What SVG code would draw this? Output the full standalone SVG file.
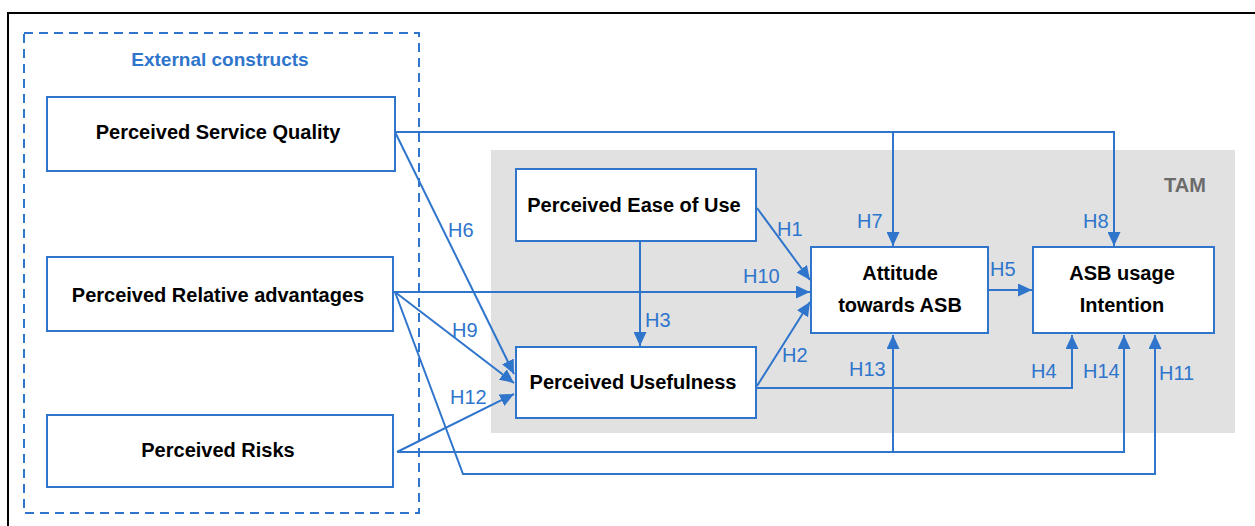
<svg xmlns="http://www.w3.org/2000/svg" width="1255" height="526" viewBox="0 0 1255 526">
<style>
.node{fill:#fff;stroke:#2F75CC;stroke-width:2}
.t{font-family:"Liberation Sans",Arial,sans-serif;font-weight:bold;font-size:20px;fill:#000;text-anchor:middle}
.lbl{font-family:"Liberation Sans",Arial,sans-serif;font-size:20px;fill:#2F75CC}
.c{fill:none;stroke:#2F75CC;stroke-width:2}
</style>
<defs>
<marker id="arr" markerUnits="userSpaceOnUse" markerWidth="14" markerHeight="13" refX="14" refY="6.5" orient="auto">
<path d="M0,0 L14,6.5 L0,13 z" fill="#2F75CC"/>
</marker>
</defs>
<rect x="0" y="0" width="1255" height="526" fill="#fff"/>
<rect x="8" y="13" width="1260" height="530" fill="none" stroke="#000" stroke-width="2"/>
<g id="tam-area">
<rect x="491" y="150" width="744" height="283" fill="#e1e1e1"/>
<text x="1185" y="192" font-family="Liberation Sans,Arial,sans-serif" font-weight="bold" font-size="20" fill="#6b6b6b" text-anchor="middle">TAM</text>
</g>
<g id="external">
<rect x="24" y="33" width="395" height="480" fill="none" stroke="#2F75CC" stroke-width="2" stroke-dasharray="9,6"/>
<text x="220" y="66" font-family="Liberation Sans,Arial,sans-serif" font-weight="bold" font-size="19" fill="#2F75CC" text-anchor="middle">External constructs</text>
</g>
<g id="connectors">
<path class="c" d="M395,132 H1114 V246" marker-end="url(#arr)"/>
<path class="c" d="M893,132 V246" marker-end="url(#arr)"/>
<path class="c" d="M395,132 L514,374" marker-end="url(#arr)"/>
<path class="c" d="M393,292 H810" marker-end="url(#arr)"/>
<path class="c" d="M395,292 L514,383" marker-end="url(#arr)"/>
<path class="c" d="M395,292 L463,474 H1155 V335" marker-end="url(#arr)"/>
<path class="c" d="M397,452 L514,394" marker-end="url(#arr)"/>
<path class="c" d="M397,452 H1124 V335" marker-end="url(#arr)"/>
<path class="c" d="M893,452 V335" marker-end="url(#arr)"/>
<path class="c" d="M756,388 H1072 V335" marker-end="url(#arr)"/>
<path class="c" d="M757,386 L810,302" marker-end="url(#arr)"/>
<path class="c" d="M757,208 L810,280" marker-end="url(#arr)"/>
<path class="c" d="M640,241 V346" marker-end="url(#arr)"/>
<path class="c" d="M988,290 H1032" marker-end="url(#arr)"/>
</g>
<g id="labels">
<text class="lbl" x="448" y="237">H6</text>
<text class="lbl" x="777" y="236">H1</text>
<text class="lbl" x="743" y="283">H10</text>
<text class="lbl" x="857" y="228">H7</text>
<text class="lbl" x="1083" y="228">H8</text>
<text class="lbl" x="990" y="276">H5</text>
<text class="lbl" x="645" y="327">H3</text>
<text class="lbl" x="452" y="337">H9</text>
<text class="lbl" x="450" y="404">H12</text>
<text class="lbl" x="782" y="362">H2</text>
<text class="lbl" x="849" y="376">H13</text>
<text class="lbl" x="1031" y="378">H4</text>
<text class="lbl" x="1083" y="378">H14</text>
<text class="lbl" x="1159" y="380">H11</text>
</g>
<g id="psq">
<rect class="node" x="47" y="97" width="348" height="74"/>
<text class="t" x="218" y="139">Perceived Service Quality</text>
</g>
<g id="pra">
<rect class="node" x="47" y="257" width="346" height="74"/>
<text class="t" x="218" y="302">Perceived Relative advantages</text>
</g>
<g id="pr">
<rect class="node" x="47" y="415" width="346" height="72"/>
<text class="t" x="218" y="457">Perceived Risks</text>
</g>
<g id="peou">
<rect class="node" x="516" y="169" width="240" height="72"/>
<text class="t" x="634" y="212">Perceived Ease of Use</text>
</g>
<g id="pu">
<rect class="node" x="516" y="347" width="240" height="71"/>
<text class="t" x="633" y="389">Perceived Usefulness</text>
</g>
<g id="att">
<rect class="node" x="811" y="247" width="177" height="86"/>
<text class="t" x="900" y="280">Attitude</text>
<text class="t" x="900" y="312">towards  ASB</text>
</g>
<g id="asb">
<rect class="node" x="1033" y="247" width="181" height="86"/>
<text class="t" x="1122" y="280">ASB usage</text>
<text class="t" x="1122" y="312">Intention</text>
</g>
</svg>
